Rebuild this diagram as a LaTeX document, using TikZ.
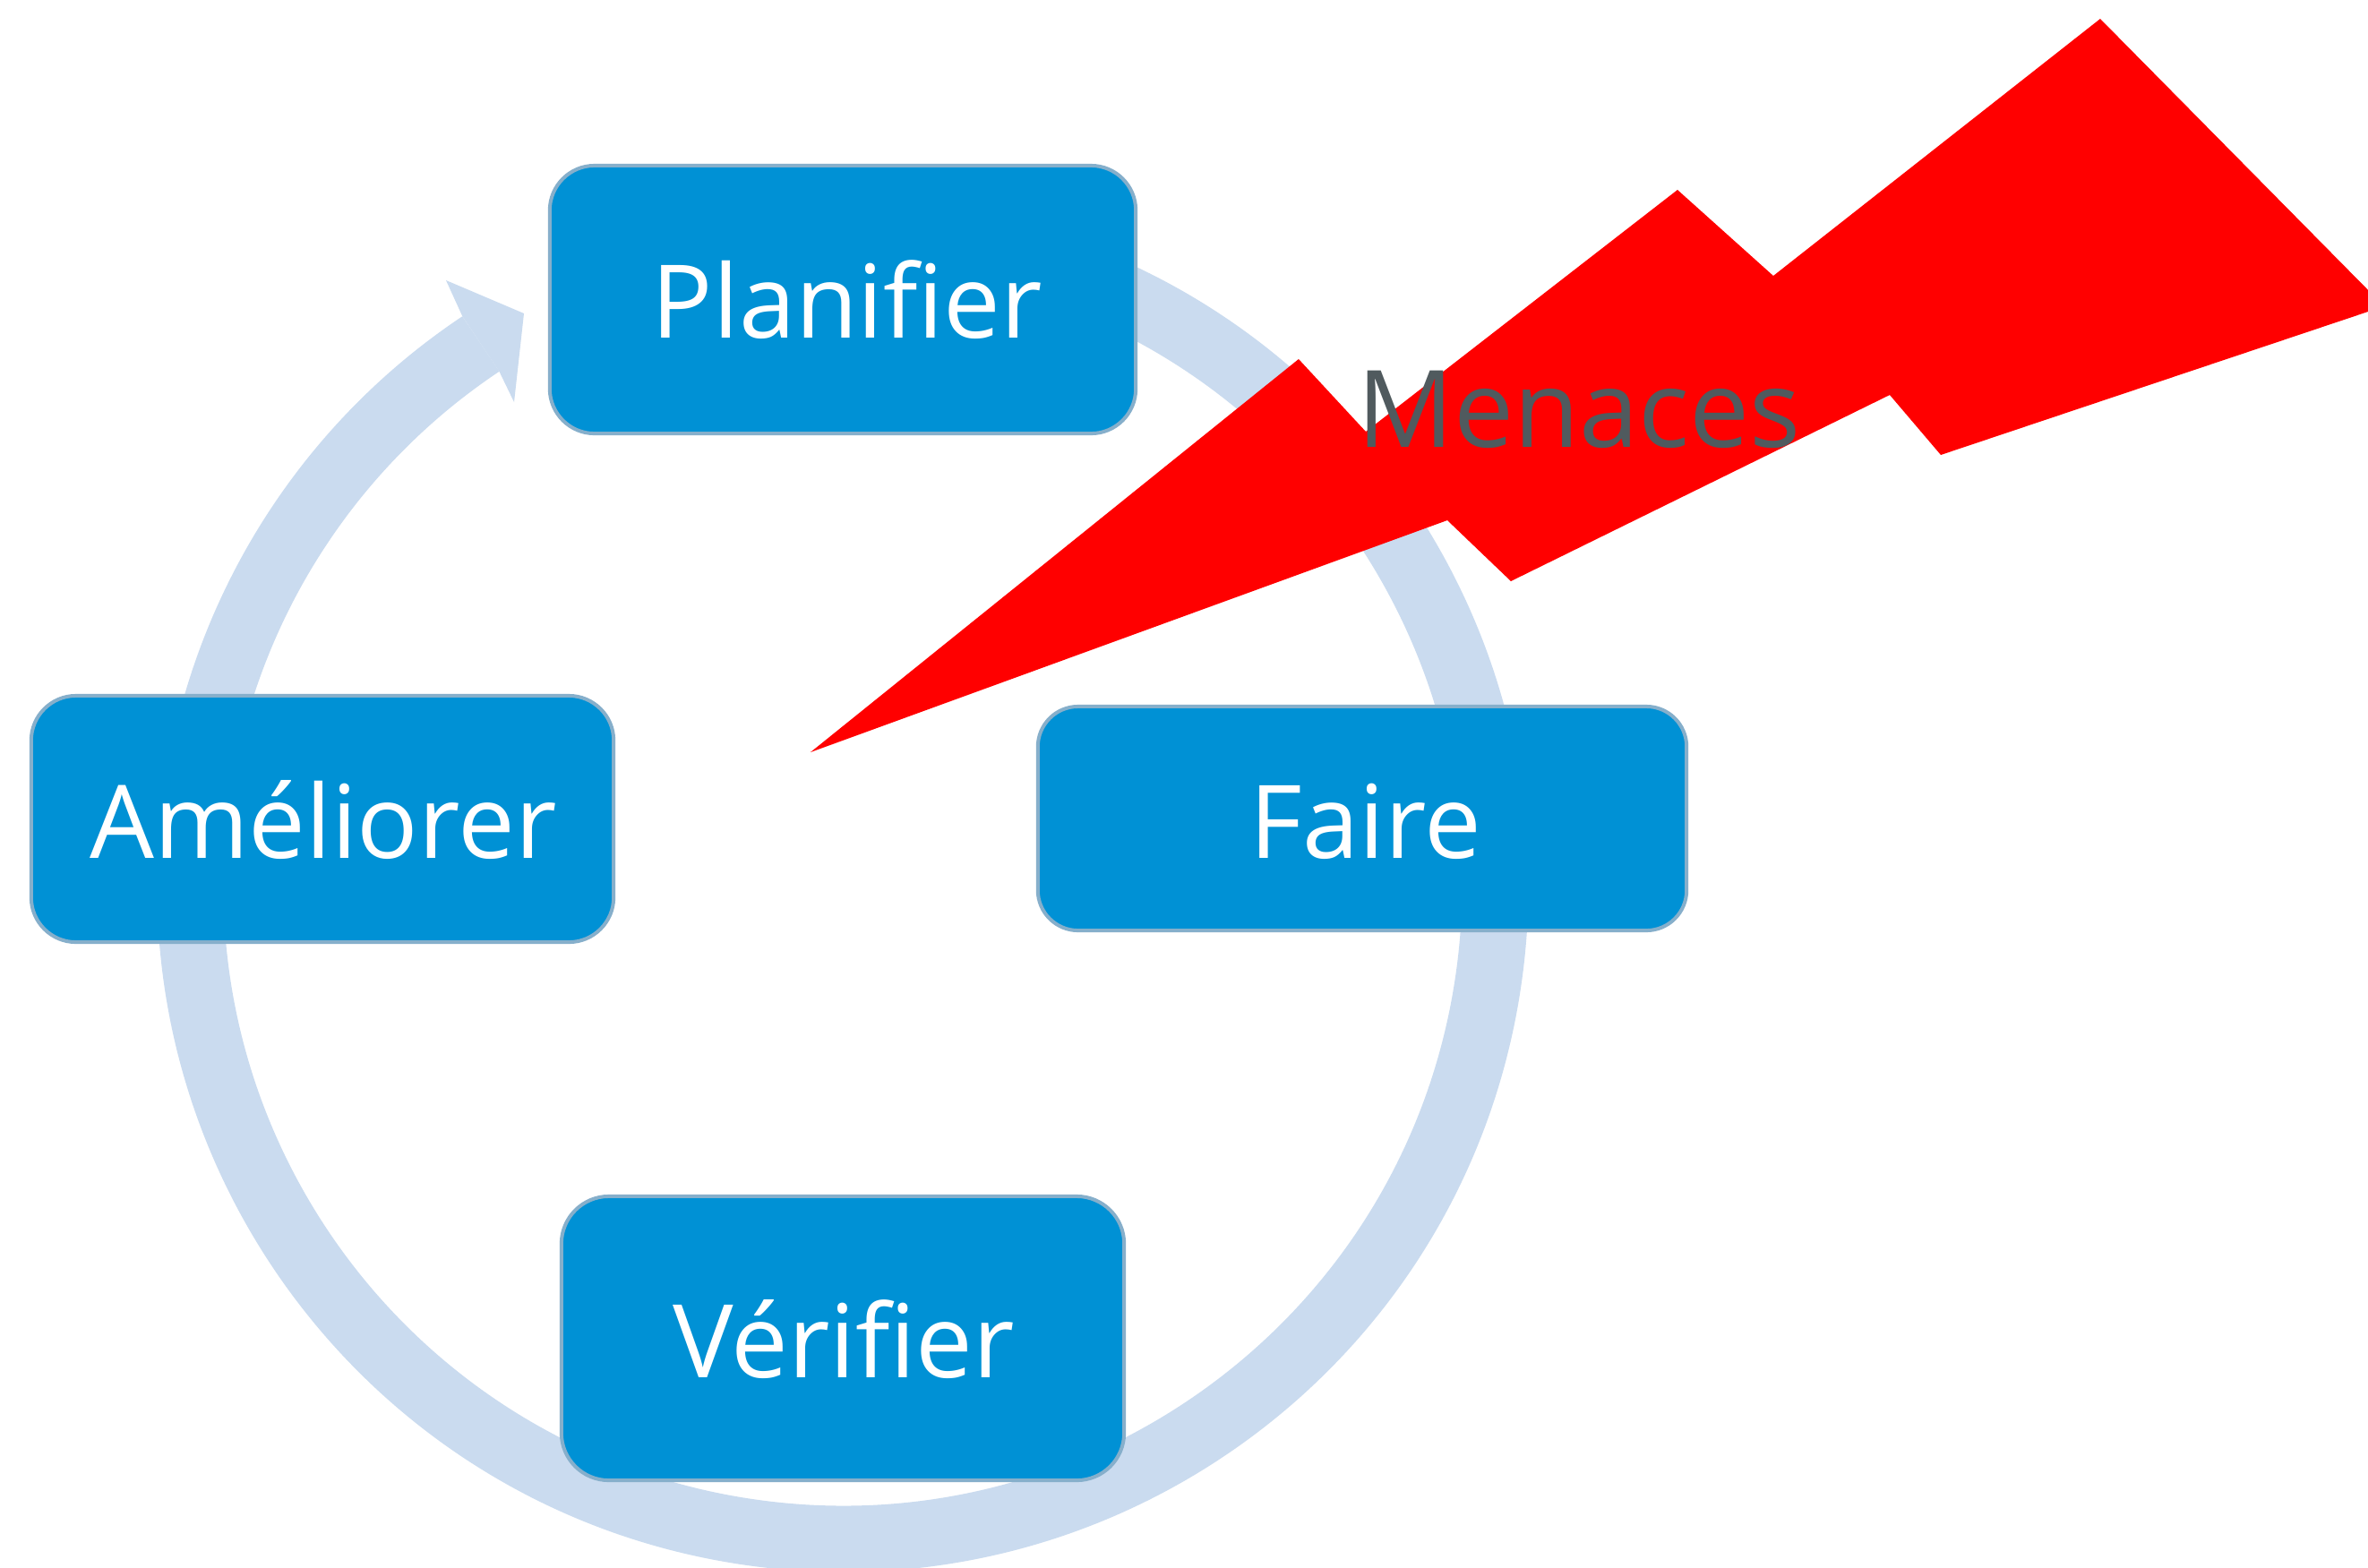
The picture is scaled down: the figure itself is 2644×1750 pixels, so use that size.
\documentclass[tikz,border=0pt]{standalone}
\usepackage{fontspec}
\setmainfont{Open Sans}
\definecolor{ringblue}{HTML}{CADBEF}
\definecolor{boxfill}{HTML}{0091D5}
\definecolor{boxline}{HTML}{86AFCB}
\definecolor{threat}{HTML}{FF0000}
\definecolor{threattext}{HTML}{505A5E}
\begin{document}
\begin{tikzpicture}[x=0.01cm,y=-0.01cm,
  stepbox/.style={draw=boxline, fill=boxfill, line width=0.04cm, rounded corners=0.5cm, inner sep=0pt},
  steplabel/.style={text=white, font=\fontsize{32.3}{39}\selectfont, anchor=base, inner sep=0pt},
  threatlabel/.style={text=threattext, font=\fontsize{34}{41}\selectfont, anchor=base, inner sep=0pt},
  ringline/.style={draw=ringblue, line width=0.74cm},
  ringhead/.style={fill=ringblue},
  bolt/.style={fill=threat}]
\useasboundingbox (0,0) rectangle (2644,1750);
\fill[white] (0,0) rectangle (2644,1750);
% cycle ring
\coordinate (c) at (941,990);
\draw[ringline] (c) ++(80:7.28cm) arc[start angle=80, end angle=-236.3, radius=7.28cm];
\coordinate (hA) at (516.5,353.6);
\coordinate (hB) at (498,313);
\coordinate (hT) at (585,350);
\coordinate (hC) at (574,449);
\coordinate (hD) at (557.6,415.1);
\fill[ringhead] (hA) -- (hB) -- (hT) -- (hC) -- (hD) -- cycle;
% boxes
\node[stepbox, minimum width=6.54cm, minimum height=2.99cm] (planbox) at (941,334.5) {};
\node[stepbox, minimum width=6.50cm, minimum height=2.75cm] (amelbox) at (360,914.5) {};
\node[stepbox, minimum width=7.24cm, minimum height=2.50cm, rounded corners=0.45cm] (fairebox) at (1521,914) {};
\node[stepbox, minimum width=6.28cm, minimum height=3.17cm, rounded corners=0.53cm] (verifbox) at (941,1494.5) {};
\node[steplabel] (plan) at (946,377) {Planifier};
\node[steplabel] (amel) at (361,958) {Améliorer};
\node[steplabel] (faire) at (1525,958) {Faire};
\node[steplabel] (verif) at (942,1538) {Vérifier};
% threat bolt
\fill[bolt] (905,840) -- (1450,401) -- (1525,482) -- (1873,212) -- (1980,308)
  -- (2345,21) -- (2662,342) -- (2167,508) -- (2110,441) -- (1687,649)
  -- (1616,581) -- cycle;
\node[threatlabel] (menace) at (1763,499) {Menaces};
\end{tikzpicture}
\end{document}
